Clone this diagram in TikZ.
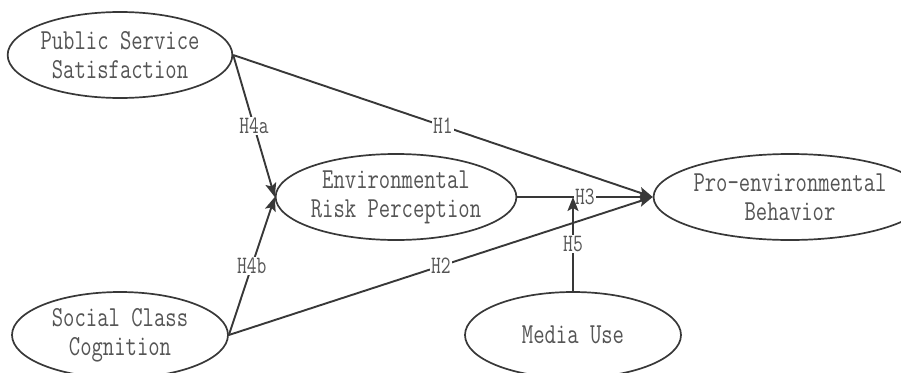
\documentclass[tikz,border=0pt]{standalone}
\usepackage{fontspec}
\setmonofont[FakeStretch=0.76]{Latin Modern Mono}
\usetikzlibrary{shapes.geometric}
\usetikzlibrary{arrows.meta}

\definecolor{linegray}{HTML}{383838}
\definecolor{textgray}{HTML}{555555}

\tikzset{
  var/.style={ellipse, draw=linegray, line width=1.7pt,
    minimum width=216pt, minimum height=86pt, inner sep=0pt,
    align=center, text=textgray, font=\ttfamily\fontsize{29}{29}\selectfont},
  link/.style={draw=linegray, line width=1.9pt,
    -{Stealth[length=14pt,width=11pt,inset=3pt]}},
  hyp/.style={fill=white, inner sep=1.5pt, text=textgray,
    font=\ttfamily\fontsize{25}{27}\selectfont}
}

\begin{document}
\begin{tikzpicture}[x=1pt,y=-1pt]
\useasboundingbox (0,0) rectangle (901,372);

% 五个潜变量(椭圆)
\node[var] (pss) at (120,55) {Public Service\\Satisfaction};
\node[var] (erp) at (396,197) {Environmental\\Risk Perception};
\node[var, minimum width=220pt] (peb) at (790,197) {Pro-environmental\\Behavior};
\node[var] (scc) at (120,335) {Social Class\\Cognition};
\node[var] (mu) at (573,335) {Media Use};

% 前因变量到中介变量
\draw[link] (pss.east) -- node[hyp] {H4a} (erp.west);
\draw[link] (scc.east) -- node[hyp] {H4b} (erp.west);

% 直接效应
\draw[link] (pss.east) -- node[hyp] {H1} (peb.west);
\draw[link] (scc.east) -- node[hyp] {H2} (peb.west);
\draw[link] (erp.east) -- node[hyp] {H3} (peb.west);

% 调节效应,箭头落在 H3 路径上
\coordinate (mod) at (mu.north |- erp.east);
\draw[link] (mu.north) -- node[hyp] {H5} (mod);

\end{tikzpicture}
\end{document}
